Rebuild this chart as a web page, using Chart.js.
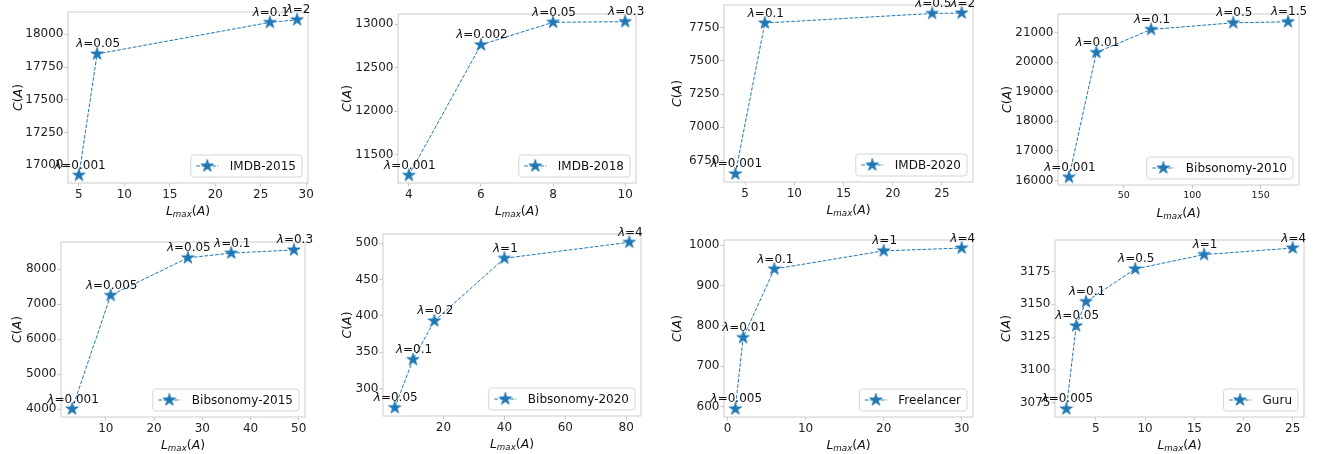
<!DOCTYPE html>
<html>
<head>
<meta charset="utf-8">
<script src="https://cdn.jsdelivr.net/npm/chart.js@4.4.0/dist/chart.umd.min.js"></script>
<style>
  html, body { margin: 0; padding: 0; background: #fff; overflow: hidden; }
  body { width: 1320px; height: 454px; position: relative; }
  canvas { position: absolute; }
</style>
</head>
<body>
<script>
// --- data ---
const imdb2015Lmax = [5, 7, 26, 29];
const imdb2015C = [16924, 17850, 18091, 18111];
const imdb2015Lam = ['0.001', '0.05', '0.1', '2'];

const imdb2018Lmax = [4, 6, 8, 10];
const imdb2018C = [11265, 12764, 13023, 13030];
const imdb2018Lam = ['0.001', '0.002', '0.05', '0.3'];

const imdb2020Lmax = [4, 7, 24, 27];
const imdb2020C = [6649, 7786, 7858, 7861];
const imdb2020Lam = ['0.001', '0.1', '0.5', '2'];

const bib2010Lmax = [10, 30, 70, 130, 170];
const bib2010C = [16110, 20330, 21110, 21335, 21370];
const bib2010Lam = ['0.001', '0.01', '0.1', '0.5', '1.5'];

const bib2015Lmax = [3, 11, 27, 36, 49];
const bib2015C = [4000, 7250, 8325, 8460, 8550];
const bib2015Lam = ['0.001', '0.005', '0.05', '0.1', '0.3'];

const bib2020Lmax = [4, 10, 17, 40, 81];
const bib2020C = [274, 340, 393, 479, 501];
const bib2020Lam = ['0.05', '0.1', '0.2', '1', '4'];

const freelancerLmax = [1, 2, 6, 20, 30];
const freelancerC = [594, 771, 941, 986, 993];
const freelancerLam = ['0.005', '0.01', '0.1', '1', '4'];

const guruLmax = [2, 3, 4, 9, 16, 25];
const guruC = [3070, 3133.5, 3152, 3177, 3188, 3193];
const guruLam = ['0.005', '0.05', '0.1', '0.5', '1', '4'];

// tick labels
const xTicks = [
  [5, 10, 15, 20, 25, 30],
  [4, 6, 8, 10],
  [5, 10, 15, 20, 25],
  [50, 100, 150],
  [10, 20, 30, 40, 50],
  [20, 40, 60, 80],
  [0, 10, 20, 30],
  [5, 10, 15, 20, 25]
];
const yTicks = [
  [17000, 17250, 17500, 17750, 18000],
  [11500, 12000, 12500, 13000],
  [6750, 7000, 7250, 7500, 7750],
  [16000, 17000, 18000, 19000, 20000, 21000],
  [4000, 5000, 6000, 7000, 8000],
  [300, 350, 400, 450, 500],
  [600, 700, 800, 900, 1000],
  [3075, 3100, 3125, 3150, 3175]
];

const panels = [
  { name: 'IMDB-2015', x: imdb2015Lmax, y: imdb2015C, lam: imdb2015Lam },
  { name: 'IMDB-2018', x: imdb2018Lmax, y: imdb2018C, lam: imdb2018Lam },
  { name: 'IMDB-2020', x: imdb2020Lmax, y: imdb2020C, lam: imdb2020Lam },
  { name: 'Bibsonomy-2010', x: bib2010Lmax, y: bib2010C, lam: bib2010Lam },
  { name: 'Bibsonomy-2015', x: bib2015Lmax, y: bib2015C, lam: bib2015Lam },
  { name: 'Bibsonomy-2020', x: bib2020Lmax, y: bib2020C, lam: bib2020Lam },
  { name: 'Freelancer', x: freelancerLmax, y: freelancerC, lam: freelancerLam },
  { name: 'Guru', x: guruLmax, y: guruC, lam: guruLam }
];

// plot rectangles on the page: left, top, right, bottom, gap to y title, x tick font size
const boxes = [
  [67.7, 12, 308, 183, 50.7, 12],
  [398.3, 14, 636.7, 183.3, 52, 12],
  [724.3, 5.3, 973.3, 182.7, 47.6, 12],
  [1058.3, 14, 1299.3, 185.3, 51.6, 9.5],
  [61, 242.3, 305.3, 417.7, 44.3, 12],
  [383.3, 233.7, 641, 415.3, 36.6, 12],
  [724.3, 240.3, 973.3, 417, 47.6, 12],
  [1055, 240.3, 1304.3, 417, 50, 12]
];

const BLUE = '#1f77b4';
const FONT = "'DejaVu Sans'";
const YW = 62, PADT = 14, PADR = 18, XH = 40;

// filled five-point star like matplotlib '*'
function makeStar(r) {
  const c = document.createElement('canvas');
  const s = Math.ceil(r * 2 + 4);
  c.width = s; c.height = s;
  const g = c.getContext('2d');
  g.beginPath();
  for (let i = 0; i < 10; i++) {
    const rad = i % 2 === 0 ? r : r * 0.382;
    const a = -Math.PI / 2 + i * Math.PI / 5;
    const px = s / 2 + rad * Math.cos(a), py = s / 2 + rad * Math.sin(a);
    if (i === 0) g.moveTo(px, py); else g.lineTo(px, py);
  }
  g.closePath();
  g.fillStyle = BLUE;
  g.fill();
  g.lineWidth = 0.8;
  g.strokeStyle = BLUE;
  g.stroke();
  return c;
}
const star = makeStar(6.6);

// draw a run of text pieces, centred on x
function drawParts(ctx, parts, x, y) {
  let w = 0;
  parts.forEach(p => {
    ctx.font = (p.it ? 'italic ' : '') + p.size + 'px ' + FONT;
    p.w = ctx.measureText(p.t).width;
    w += p.w;
  });
  let cx = x - w / 2;
  ctx.textAlign = 'left';
  ctx.textBaseline = 'alphabetic';
  parts.forEach(p => {
    ctx.font = (p.it ? 'italic ' : '') + p.size + 'px ' + FONT;
    ctx.fillText(p.t, cx, y + (p.dy || 0));
    cx += p.w;
  });
}

const decor = {
  id: 'decor',
  beforeDatasetsDraw(chart) {
    const { ctx, chartArea: a } = chart;
    ctx.save();
    ctx.strokeStyle = '#cccccc';
    ctx.lineWidth = 1;
    ctx.strokeRect(a.left, a.top, a.right - a.left, a.bottom - a.top);
    ctx.restore();
  },
  afterDatasetsDraw(chart) {
    const { ctx, chartArea: a } = chart;
    const p = chart.options.plugins.decor;
    ctx.save();
    ctx.fillStyle = '#111';
    // lambda annotations
    chart.getDatasetMeta(0).data.forEach((pt, i) => {
      drawParts(ctx, [
        { t: 'λ', it: true, size: 12 },
        { t: '=' + p.lam[i], size: 12 }
      ], pt.x + 1, pt.y - 6.5);
    });
    // axis titles
    const midX = (a.left + a.right) / 2;
    drawParts(ctx, [
      { t: 'L', it: true, size: 12.5 },
      { t: 'max', it: true, size: 8.7, dy: 2.5 },
      { t: '(', size: 12.5 },
      { t: 'A', it: true, size: 12.5 },
      { t: ')', size: 12.5 }
    ], midX, a.bottom + 31.5);
    ctx.save();
    ctx.translate(a.left - p.gap, (a.top + a.bottom) / 2);
    ctx.rotate(-Math.PI / 2);
    drawParts(ctx, [
      { t: 'C', it: true, size: 12.5 },
      { t: '(', size: 12.5 },
      { t: 'A', it: true, size: 12.5 },
      { t: ')', size: 12.5 }
    ], 0, 4.5);
    ctx.restore();
    // legend in lower right
    ctx.font = '12px ' + FONT;
    const tw = ctx.measureText(p.name).width;
    const bw = 5.5 + 22 + 11.5 + tw + 6, bh = 22;
    const bx = a.right - 6 - bw, by = a.bottom - 6 - bh;
    ctx.beginPath();
    ctx.roundRect(bx, by, bw, bh, 3);
    ctx.fillStyle = 'rgba(255,255,255,0.8)';
    ctx.fill();
    ctx.strokeStyle = '#d5d5d5';
    ctx.lineWidth = 1;
    ctx.stroke();
    const ly = by + bh / 2;
    ctx.beginPath();
    ctx.setLineDash([3.7, 1.6]);
    ctx.moveTo(bx + 5.5, ly);
    ctx.lineTo(bx + 27.5, ly);
    ctx.strokeStyle = BLUE;
    ctx.stroke();
    ctx.setLineDash([]);
    ctx.drawImage(star, bx + 16.5 - star.width / 2, ly - star.height / 2);
    ctx.fillStyle = '#111';
    ctx.textAlign = 'left';
    ctx.textBaseline = 'middle';
    ctx.fillText(p.name, bx + 39, ly + 0.5);
    ctx.restore();
  }
};

function pad(arr) {
  const lo = Math.min(...arr), hi = Math.max(...arr);
  const m = (hi - lo) * 0.05;
  return [lo - m, hi + m];
}

panels.forEach((pn, i) => {
  const [l, t, r, b, gap, xfs] = boxes[i];
  const w = Math.round(r - l + YW + PADR);
  const h = Math.round(b - t + PADT + XH);
  const cv = document.createElement('canvas');
  cv.width = w; cv.height = h;
  cv.style.left = (l - YW) + 'px';
  cv.style.top = (t - PADT) + 'px';
  cv.style.width = w + 'px';
  cv.style.height = h + 'px';
  document.body.appendChild(cv);

  const [xmin, xmax] = pad(pn.x);
  const [ymin, ymax] = pad(pn.y);
  const xt = xTicks[i], yt = yTicks[i];

  new Chart(cv.getContext('2d'), {
    type: 'line',
    data: {
      datasets: [{
        label: pn.name,
        data: pn.x.map((v, k) => ({ x: v, y: pn.y[k] })),
        borderColor: BLUE,
        backgroundColor: BLUE,
        borderWidth: 1,
        borderDash: [3.7, 1.6],
        pointStyle: star,
        pointRadius: 6,
        pointHoverRadius: 6,
        fill: false,
        tension: 0,
        clip: false
      }]
    },
    options: {
      responsive: false,
      animation: false,
      devicePixelRatio: 1,
      layout: { padding: { top: PADT, right: PADR, left: 0, bottom: 0 } },
      plugins: {
        legend: { display: false },
        tooltip: { enabled: false },
        decor: { lam: pn.lam, name: pn.name, gap: gap }
      },
      scales: {
        x: {
          type: 'linear',
          min: xmin, max: xmax,
          afterBuildTicks: ax => { ax.ticks = xt.map(v => ({ value: v })); },
          afterFit: ax => { ax.height = XH; },
          grid: { drawOnChartArea: false, drawTicks: true, tickLength: 3.5, color: '#c8c8c8' },
          border: { display: false },
          ticks: {
            padding: 1,
            maxRotation: 0,
            autoSkip: false,
            color: '#222',
            font: { family: FONT, size: xfs },
            callback: v => String(v)
          }
        },
        y: {
          type: 'linear',
          min: ymin, max: ymax,
          afterBuildTicks: ax => { ax.ticks = yt.map(v => ({ value: v })); },
          afterFit: ax => { ax.width = YW; },
          grid: { drawOnChartArea: false, drawTicks: true, tickLength: 3.5, color: '#c8c8c8' },
          border: { display: false },
          ticks: {
            padding: 1,
            autoSkip: false,
            color: '#222',
            font: { family: FONT, size: 12 },
            callback: v => String(v)
          }
        }
      }
    },
    plugins: [decor]
  });
});
</script>
</body>
</html>
